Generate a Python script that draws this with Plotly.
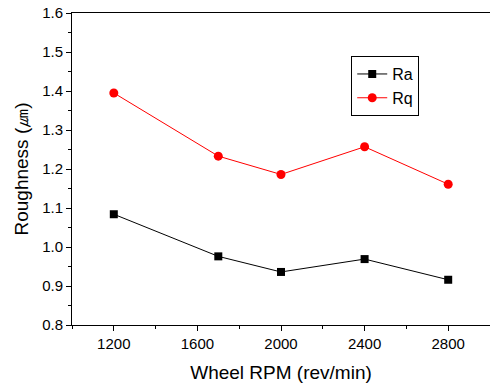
import plotly.graph_objects as go

rpm = [1200, 1700, 2000, 2400, 2800]
ra = [1.084, 0.976, 0.936, 0.969, 0.916]
rq = [1.395, 1.233, 1.186, 1.257, 1.161]
x_ticks = [1200, 1600, 2000, 2400, 2800]
y_ticks = [0.8, 0.9, 1.0, 1.1, 1.2, 1.3, 1.4, 1.5, 1.6]

FONT = "Liberation Sans, Arial, sans-serif"

fig = go.Figure()
fig.add_trace(go.Scatter(x=rpm, y=ra, name="Ra", mode="lines+markers",
                         line=dict(color="black", width=1),
                         marker=dict(symbol="square", size=8, color="black")))
fig.add_trace(go.Scatter(x=rpm, y=rq, name="Rq", mode="lines+markers",
                         line=dict(color="#ff0000", width=1),
                         marker=dict(symbol="circle", size=9, color="#ff0000")))

fig.update_layout(
    width=490, height=386,
    margin=dict(l=72, r=0, t=13, b=61),
    paper_bgcolor="white", plot_bgcolor="white",
    font=dict(family=FONT, color="black", size=15),
    showlegend=True,
    legend=dict(x=0.668, y=0.862, xanchor="left", yanchor="top",
                bordercolor="black", borderwidth=1, bgcolor="white",
                font=dict(size=16), tracegroupgap=0),
)
fig.update_xaxes(
    range=[1000, 3000], tickvals=x_ticks, ticks="outside", ticklen=5,
    tickwidth=1, tickcolor="black", showline=True, linecolor="black",
    linewidth=1, mirror=True, showgrid=False, zeroline=False,
    minor=dict(dtick=200, tick0=1000, ticks="outside", ticklen=3,
               tickcolor="black", showgrid=False),
    title=dict(text="Wheel RPM (rev/min)", font=dict(size=19), standoff=14),
    tickfont=dict(size=15),
)
fig.update_yaxes(
    range=[0.8, 1.6], tickvals=y_ticks, tickformat=".1f", ticks="outside",
    ticklen=5, tickwidth=1, tickcolor="black", showline=True,
    linecolor="black", linewidth=1, mirror=True, showgrid=False,
    zeroline=False,
    minor=dict(dtick=0.05, tick0=0.8, ticks="outside", ticklen=3,
               tickcolor="black", showgrid=False),
    title=dict(text="Roughness (㎛)", font=dict(size=19), standoff=8),
    tickfont=dict(size=15),
)

fig.write_html("out.html", config={"displayModeBar": False},
               post_script="document.body.style.margin='0';document.body.style.overflow='hidden';")
